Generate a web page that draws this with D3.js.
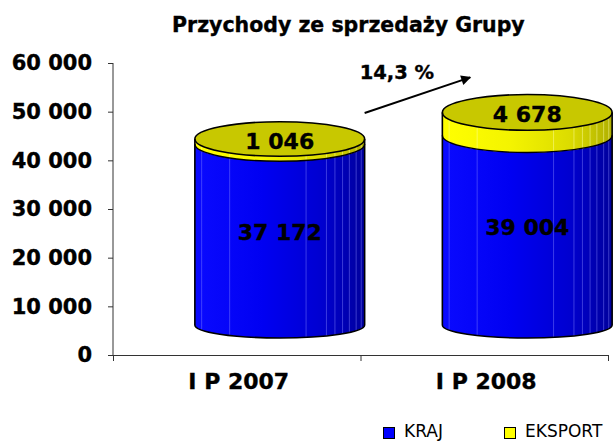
<!DOCTYPE html>
<html><head><meta charset="utf-8">
<script src="https://cdn.jsdelivr.net/npm/d3@7"></script>
<style>body{margin:0;background:#fff} svg{display:block}</style>
</head><body>
<svg id="c" width="614" height="442"></svg>
<script>
const categories = ["I P 2007", "I P 2008"];
const kraj = [37172, 39004];
const eksport = [1046, 4678];
const yTicks = [0, 10000, 20000, 30000, 40000, 50000, 60000];
const seriesNames = ["KRAJ", "EKSPORT"];
const growthLabel = "14,3 %";
const titleText = "Przychody ze sprzedaży Grupy";

const FONT = "'DejaVu Sans', Verdana, sans-serif";
const svg = d3.select("#c");
const y = d3.scaleLinear().domain([0, 60000]).range([355, 63]);
const x = d3.scaleBand().domain(categories).range([113, 608]).padding(0);
const fmt = v => d3.format(",")(v).replace(/,/g, " ");

const defs = svg.append("defs");
function grad(id, stops) {
  const g = defs.append("linearGradient").attr("id", id).attr("x1", 0).attr("x2", 1).attr("y1", 0).attr("y2", 0);
  stops.forEach(s => g.append("stop").attr("offset", s[0]).attr("stop-color", s[1]));
}
grad("gBlue", [[0, "#0a0aff"], [0.4, "#0000f2"], [0.75, "#0000d0"], [1, "#00009c"]]);
grad("gYel", [[0, "#ffff00"], [0.4, "#f4f400"], [0.75, "#dcdc00"], [1, "#b0b000"]]);
const colors = { KRAJ: "#0000ff", EKSPORT: "#ffff00" };

defs.append("marker").attr("id", "arr").attr("viewBox", "0 0 10 10").attr("refX", 9).attr("refY", 5)
  .attr("markerWidth", 6).attr("markerHeight", 5).attr("orient", "auto").attr("markerUnits", "strokeWidth")
  .append("path").attr("d", "M0,0 L10,5 L0,10 Z").attr("fill", "#000");

const bold = sel => sel.style("font-family", FONT).style("font-weight", "bold")
  .attr("fill", "#000").attr("stroke", "#000").attr("stroke-width", 0.35);

// title
svg.append("text").attr("x", 172).attr("y", 32).attr("text-anchor", "start")
  .call(bold).style("font-size", "20.5px").text(titleText);

// y axis
const gy = svg.append("g").attr("transform", "translate(113,0)")
  .call(d3.axisLeft(y).tickValues(yTicks).tickSize(5).tickPadding(16).tickFormat(fmt));
gy.selectAll("text").call(bold).style("font-size", "21px");
gy.selectAll("line,path").attr("stroke", "#333");
gy.select(".domain").attr("d", `M0,${y(60000)}V${y(0)}`);

// x axis
const xr = x.range();
svg.append("line").attr("x1", xr[0]).attr("x2", xr[1]).attr("y1", y(0) + 0.5).attr("y2", y(0) + 0.5).attr("stroke", "#333");
const bounds = categories.map(c => x(c)).concat([xr[1]]);
svg.selectAll(".xt").data(bounds).join("line").attr("x1", d => d + 0.5).attr("x2", d => d + 0.5)
  .attr("y1", y(0)).attr("y2", y(0) + 6).attr("stroke", "#333");
svg.selectAll(".xl").data(categories).join("text").attr("x", d => x(d) + x.bandwidth() / 2 + 2).attr("y", 389)
  .attr("text-anchor", "middle").call(bold).style("font-size", "22px").text(d => d);

// cylinders
const DX = 43, DY = -30;
const rx = x.bandwidth() * 0.343;
const ryAt = v => 13 + 5 * v / 45000;
const facets = [-0.92, -0.59, 0.31, 0.55, 0.65, 0.74, 0.82, 0.9, 0.96];

function sideBand(cx, v0, v1) {
  const y0 = y(v0) + DY, y1 = y(v1) + DY, r0 = ryAt(v0), r1 = ryAt(v1);
  return `M${cx - rx},${y0} L${cx - rx},${y1} A${rx},${r1} 0 0 0 ${cx + rx},${y1} L${cx + rx},${y0} A${rx},${r0} 0 0 1 ${cx - rx},${y0} Z`;
}
function frontArc(cx, v) {
  const yy = y(v) + DY, r = ryAt(v);
  return `M${cx - rx},${yy} A${rx},${r} 0 0 0 ${cx + rx},${yy}`;
}

categories.forEach((c, i) => {
  const cx = x(c) + x.bandwidth() / 2 + DX;
  const g = svg.append("g");
  const vb = 0, vk = kraj[i], vt = kraj[i] + eksport[i];
  g.append("path").attr("d", sideBand(cx, vb, vk)).attr("fill", "url(#gBlue)");
  g.append("path").attr("d", sideBand(cx, vk, vt)).attr("fill", "url(#gYel)");
  facets.forEach(f => {
    const s = Math.sqrt(1 - f * f);
    const xx = cx + f * rx;
    const yb = y(vb) + DY + ryAt(vb) * s, ym = y(vk) + DY + ryAt(vk) * s, yt = y(vt) + DY + ryAt(vt) * s;
    g.append("line").attr("x1", xx).attr("x2", xx).attr("y1", yb).attr("y2", ym)
      .attr("stroke", "#8888ff").attr("stroke-opacity", 0.55).attr("stroke-width", 0.8);
    g.append("line").attr("x1", xx).attr("x2", xx).attr("y1", ym).attr("y2", yt)
      .attr("stroke", "#ffffaa").attr("stroke-opacity", 0.6).attr("stroke-width", 0.8);
  });
  g.append("ellipse").attr("cx", cx).attr("cy", y(vt) + DY).attr("rx", rx).attr("ry", ryAt(vt))
    .attr("fill", "#c8c800").attr("stroke", "#000").attr("stroke-width", 1.6);
  const yB = y(vb) + DY, yT = y(vt) + DY;
  g.append("path").attr("d", `M${cx - rx},${yT} L${cx - rx},${yB} A${rx},${ryAt(vb)} 0 0 0 ${cx + rx},${yB} L${cx + rx},${yT}`)
    .attr("fill", "none").attr("stroke", "#000").attr("stroke-width", 1.6);
  g.append("path").attr("d", frontArc(cx, vk)).attr("fill", "none").attr("stroke", "#000").attr("stroke-width", 1.4);

  g.append("text").attr("x", cx).attr("y", (y(vb) + y(vk)) / 2 + DY + 5).attr("text-anchor", "middle")
    .call(bold).style("font-size", "22px").text(fmt(kraj[i]));
  g.append("text").attr("x", cx).attr("y", y(vt) + DY + 10).attr("text-anchor", "middle")
    .call(bold).style("font-size", "22px").text(fmt(eksport[i]));
});

// growth arrow between the two tops
const cx0 = x(categories[0]) + x.bandwidth() / 2 + DX;
const cx1 = x(categories[1]) + x.bandwidth() / 2 + DX;
const t0 = y(kraj[0] + eksport[0]) + DY, t1 = y(kraj[1] + eksport[1]) + DY;
svg.append("line").attr("x1", cx0 + rx).attr("y1", t0 - 26).attr("x2", cx1 - 57).attr("y2", t1 - 35)
  .attr("stroke", "#000").attr("stroke-width", 2).attr("marker-end", "url(#arr)");
svg.append("text").attr("x", cx0 + rx - 5).attr("y", t1 - 33)
  .call(bold).style("font-size", "19.5px").text(growthLabel);

// legend
const lg = svg.append("g");
const lx = [383, 504];
seriesNames.forEach((n, i) => {
  lg.append("rect").attr("x", lx[i] + 0.5).attr("y", 427.5).attr("width", 11).attr("height", 11)
    .attr("fill", colors[n]).attr("stroke", "#000");
  lg.append("text").attr("x", lx[i] + 21).attr("y", 437).style("font-family", FONT).style("font-size", "17px").text(n);
});
</script>
</body></html>
